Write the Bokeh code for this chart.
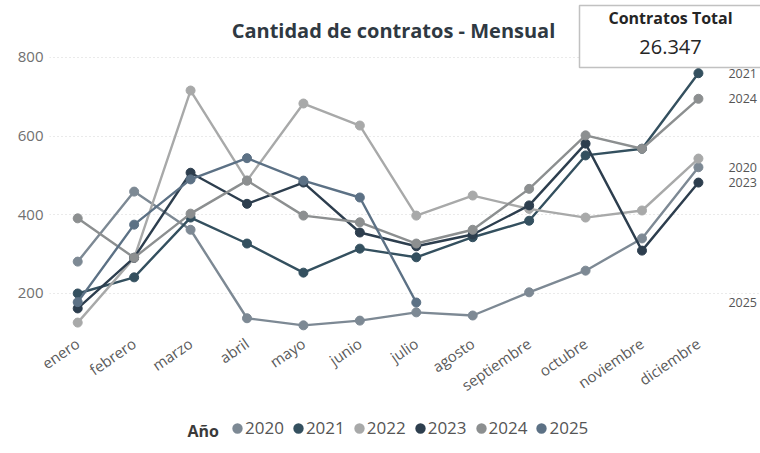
from bokeh.plotting import figure
from bokeh.layouts import column
from bokeh.models import (FixedTicker, Range1d, Label, LabelSet, ColumnDataSource,
                          Legend, LegendItem, BoxAnnotation)
from bokeh.embed import file_html
from bokeh.resources import INLINE
from bokeh.core.properties import value

# ---------------- data ----------------
months = ["enero", "febrero", "marzo", "abril", "mayo", "junio", "julio",
          "agosto", "septiembre", "octubre", "noviembre", "diciembre"]
years = ["2020", "2021", "2022", "2023", "2024", "2025"]

v2020 = [281, 459, 362, 137, 119, 131, 152, 144, 203, 258, 340, 521]
v2021 = [200, 241, 393, 327, 253, 314, 292, 343, 385, 551, 568, 760]
v2022 = [126, 290, 716, 487, 683, 627, 398, 449, 415, 393, 411, 543]
v2023 = [162, 291, 507, 428, 482, 355, 320, 350, 424, 581, 309, 482]
v2024 = [391, 291, 403, 487, 398, 381, 327, 362, 466, 602, 568, 695]
v2025 = [178, 375, 490, 544, 487, 444, 177]

series = {"2020": v2020, "2021": v2021, "2022": v2022,
          "2023": v2023, "2024": v2024, "2025": v2025}
colors = {"2020": "#7d8994", "2021": "#34505f", "2022": "#a8a9a9",
          "2023": "#2d3e4e", "2024": "#8c8f90", "2025": "#5c7185"}

end_label_years = ["2021", "2024", "2020", "2023", "2025"]
total_text = "26.347"
title_text = "Cantidad de contratos - Mensual"
card_title = "Contratos Total"
legend_title = "Año"
y_ticks = [200, 400, 600, 800]

FONT = "Open Sans"
LEFT = 49          # width of the y-axis panel (shared by both rows)
FRAME_W = 760 - LEFT

# ---------------- main chart ----------------
p = figure(frame_width=FRAME_W, frame_height=332,
           min_border_left=LEFT, min_border_right=0,
           min_border_top=0, min_border_bottom=81,
           x_range=Range1d(-0.5, 12.1),
           y_range=Range1d(100.8, 944.9),
           output_backend="svg", toolbar_location=None,
           background_fill_color="white", border_fill_color="white")
p.outline_line_color = None

p.xaxis.ticker = FixedTicker(ticks=list(range(len(months))))
p.xaxis.major_label_overrides = {i: m for i, m in enumerate(months)}
p.xaxis.major_label_orientation = 0.6
p.xaxis.axis_line_color = None
p.xaxis.major_tick_line_color = None
p.xaxis.minor_tick_line_color = None
p.xaxis.major_label_text_font = FONT
p.xaxis.major_label_text_font_size = "15px"
p.xaxis.major_label_text_color = "#5a5a5a"
p.xaxis.major_label_standoff = 3

p.yaxis.ticker = FixedTicker(ticks=y_ticks)
p.yaxis.axis_line_color = None
p.yaxis.major_tick_line_color = None
p.yaxis.minor_tick_line_color = None
p.yaxis.major_tick_out = 0
p.yaxis.major_tick_in = 0
p.yaxis.major_label_text_font = FONT
p.yaxis.major_label_text_font_size = "15px"
p.yaxis.major_label_text_color = "#707070"
p.yaxis.major_label_standoff = 6

p.xgrid.grid_line_color = None
p.ygrid.grid_line_color = "#d4d4d4"
p.ygrid.grid_line_dash = "1 3"
p.ygrid.grid_line_width = 1

for yr in years:
    vals = series[yr]
    src = ColumnDataSource(dict(x=list(range(len(vals))), y=vals))
    p.line("x", "y", source=src, line_color=colors[yr], line_width=2.4)
    p.scatter("x", "y", source=src, size=9, fill_color=colors[yr],
              line_color=colors[yr], line_width=1)

# end-of-line labels
lab_src = ColumnDataSource(dict(
    x=[len(months) - 1] * len(end_label_years),
    y=[series[yr][-1] for yr in end_label_years],
    text=end_label_years))
p.add_layout(LabelSet(x="x", y="y", text="text", source=lab_src,
                      x_offset=30, text_align="left", text_baseline="middle",
                      text_font=value(FONT), text_font_size="12.5px",
                      text_color="#555555"))

# title
p.add_layout(Label(x=393 - LEFT, y=302, x_units="screen", y_units="screen",
                   text=title_text, text_align="center", text_baseline="middle",
                   text_font=FONT, text_font_style="bold", text_font_size="20px",
                   text_color="#2f3942"))

# card
p.add_layout(BoxAnnotation(left=579 - LEFT, right=766 - LEFT, top=327, bottom=265,
                           left_units="screen", right_units="screen",
                           top_units="screen", bottom_units="screen",
                           fill_color="white", fill_alpha=1,
                           line_color="#333333", line_width=1.5))
p.add_layout(Label(x=670 - LEFT, y=315, x_units="screen", y_units="screen",
                   text=card_title, text_align="center", text_baseline="middle",
                   text_font=FONT, text_font_style="bold", text_font_size="16px",
                   text_color="#252525"))
p.add_layout(Label(x=670 - LEFT, y=286, x_units="screen", y_units="screen",
                   text=total_text, text_align="center", text_baseline="middle",
                   text_font=FONT, text_font_size="20px",
                   text_color="#252525"))

# ---------------- legend strip ----------------
lg = figure(frame_width=FRAME_W, frame_height=40,
            min_border_left=LEFT, min_border_right=0,
            min_border_top=0, min_border_bottom=0,
            x_range=Range1d(0, 1), y_range=Range1d(0, 1),
            output_backend="svg", toolbar_location=None,
            background_fill_color="white", border_fill_color="white")
lg.outline_line_color = None
lg.xaxis.visible = False
lg.yaxis.visible = False
lg.xgrid.visible = False
lg.ygrid.visible = False

legend_items = []
for yr in years:
    vals = series[yr]
    src = ColumnDataSource(dict(x=list(range(len(vals))), y=vals))
    r = lg.scatter("x", "y", source=src, size=10, fill_color=colors[yr],
                   line_color=colors[yr], line_width=4)
    legend_items.append(LegendItem(label=yr, renderers=[r]))

lg.add_layout(Label(x=187 - LEFT, y=23, x_units="screen", y_units="screen",
                    text=legend_title, text_align="left", text_baseline="middle",
                    text_font=FONT, text_font_style="bold", text_font_size="16px",
                    text_color="#3a3a3a"))
legend = Legend(items=legend_items, orientation="horizontal",
                location=(229 - LEFT, 14),
                glyph_width=16, glyph_height=18, label_height=18,
                label_standoff=0, spacing=6, padding=0, margin=0,
                border_line_color=None, background_fill_alpha=0,
                label_text_font=FONT, label_text_font_size="17px",
                label_text_color="#555555", label_text_baseline="middle")
lg.add_layout(legend)

layout = column(p, lg, spacing=0)
open("out.html", "w").write(file_html(layout, INLINE))
